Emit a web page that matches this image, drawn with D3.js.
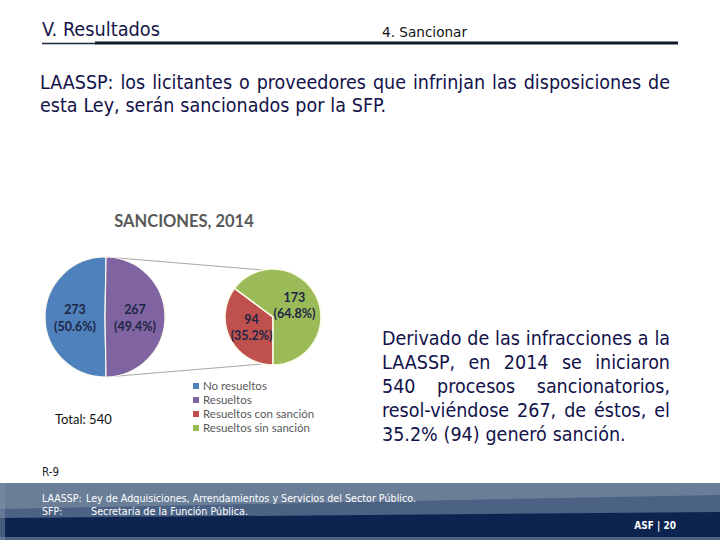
<!DOCTYPE html>
<html><head><meta charset="utf-8">
<script src="https://cdn.jsdelivr.net/npm/d3@7"></script>
<style>body{margin:0;background:#fff}svg{display:block}</style>
</head><body>
<script>
const mainLabels = ["No resueltos", "Resueltos"];
const mainValues = [273, 267];
const subLabels = ["Resueltos con sanción", "Resueltos sin sanción"];
const subValues = [94, 173];
const legendLabels = ["No resueltos", "Resueltos", "Resueltos con sanción", "Resueltos sin sanción"];
const colors = {"No resueltos":"#4f81bd","Resueltos":"#8064a2","Resueltos con sanción":"#c0504d","Resueltos sin sanción":"#9bbb59"};
const chartTitle = "SANCIONES, 2014";
const totalLabel = "Total: 540";
const headerLeft = "V. Resultados";
const headerRight = "4. Sancionar";
const introLines = ["LAASSP: los licitantes o proveedores que infrinjan las disposiciones de", "esta Ley, serán sancionados por la SFP."];
const sideLines = ["Derivado de las infracciones a la", "LAASSP, en 2014 se iniciaron", "540 procesos sancionatorios,", "resol-viéndose 267, de éstos, el", "35.2% (94) generó sanción."];
const footLines = [["LAASSP:", "Ley de Adquisiciones, Arrendamientos y Servicios del Sector Público."], ["SFP:", "Secretaría de la Función Pública."]];
const refLabel = "R-9";
const pageLabel = "ASF | 20";

const W = 720, H = 540;
const svg = d3.select("body").append("svg").attr("width", W).attr("height", H);

const txtFont = "'DejaVu Sans Condensed', 'DejaVu Sans', Verdana, sans-serif";
const txtStretch = "condensed";

// justified line: place words individually
function justLine(x, y, width, line, size, color, justify) {
  const g = svg.append("text").attr("y", y).attr("font-family", txtFont).attr("font-stretch", txtStretch)
    .attr("font-size", size).attr("fill", color);
  const words = line.split(" ");
  const spans = words.map(w => g.append("tspan").text(w));
  const widths = spans.map(s => s.node().getComputedTextLength());
  const total = d3.sum(widths);
  const space = size * 0.3;
  let gap = justify && words.length > 1 ? (width - total) / (words.length - 1) : space;
  let cx = x;
  spans.forEach((s, i) => { s.attr("x", cx); cx += widths[i] + gap; });
}

// Header
svg.append("text").attr("x", 42).attr("y", 36).attr("font-family", txtFont).attr("font-stretch", txtStretch).attr("font-size", 19.5)
  .attr("fill", "#16164a").attr("textLength", 118).attr("lengthAdjust", "spacingAndGlyphs").text(headerLeft);
svg.append("text").attr("x", 382).attr("y", 37).attr("font-family", txtFont).attr("font-stretch", txtStretch).attr("font-size", 14.5)
  .attr("fill", "#111").attr("textLength", 85).attr("lengthAdjust", "spacingAndGlyphs").text(headerRight);
svg.append("line").attr("x1", 42).attr("x2", 96).attr("y1", 43.5).attr("y2", 43.5).attr("stroke", "#1a2a3a").attr("stroke-width", 1.5);
svg.append("line").attr("x1", 95).attr("x2", 678).attr("y1", 43).attr("y2", 43).attr("stroke", "#0d1a28").attr("stroke-width", 3.2);

// Intro text
justLine(40, 89, 630, introLines[0], 19.5, "#12124a", true);
justLine(40, 112, 0, introLines[1], 19.5, "#12124a", false);

// Side text (justified)
sideLines.forEach((t, i) => justLine(382, 345 + i * 24, 288, t, 19.5, "#12124a", i < sideLines.length - 1));

// Chart
const chartFont = "Lato, 'Open Sans', sans-serif";
svg.append("text").attr("x", 184).attr("y", 227).attr("text-anchor", "middle").attr("font-family", chartFont)
  .attr("font-weight", "bold").attr("font-size", 16.5).attr("fill", "#595959").text(chartTitle);

const mainC = {x: 105, y: 317, r: 60};
const subC = {x: 273, y: 317, r: 48};
const resIdx = mainLabels.indexOf("Resueltos");
const resAngle = 2 * Math.PI * mainValues[resIdx] / d3.sum(mainValues);
const mainStart = Math.PI / 2 + resAngle / 2;
const pieMain = d3.pie().sort(null).startAngle(mainStart).endAngle(mainStart + 2 * Math.PI);
const pieSub = d3.pie().sort(null).startAngle(Math.PI).endAngle(3 * Math.PI);
const arcMain = d3.arc().innerRadius(0).outerRadius(mainC.r);
const arcSub = d3.arc().innerRadius(0).outerRadius(subC.r);
const pct = d3.format(".1%");

// connector lines
const topA = mainStart + 2 * Math.PI - resAngle;
const botA = mainStart;
const pt = (c, r, a) => [c.x + r * Math.sin(a), c.y - r * Math.cos(a)];
const conA = 12 * Math.PI / 180;
const conn = svg.append("g").attr("stroke", "#a6a6a6").attr("stroke-width", 1);
[[pt(mainC, mainC.r, topA), pt(subC, subC.r, -conA)], [pt(mainC, mainC.r, botA), pt(subC, subC.r, Math.PI + conA)]].forEach(([a, b]) => {
  conn.append("line").attr("x1", a[0]).attr("y1", a[1]).attr("x2", b[0]).attr("y2", b[1]);
});

const gMain = svg.append("g").attr("transform", `translate(${mainC.x},${mainC.y})`);
const mainArcs = pieMain(mainValues);
gMain.selectAll("path").data(mainArcs).join("path").attr("d", arcMain)
  .attr("fill", (d, i) => colors[mainLabels[i]]).attr("stroke", "#fbfbf0").attr("stroke-width", 1.2);
const totalMain = d3.sum(mainValues);
mainArcs.forEach(d => {
  const [cx, cy] = arcMain.centroid(d);
  const t = gMain.append("text").attr("text-anchor", "middle").attr("font-family", chartFont).attr("font-weight", "bold")
    .attr("font-size", 12.5).attr("fill", "#1d2645");
  t.append("tspan").attr("x", cx).attr("y", cy - 3).text(d.data);
  t.append("tspan").attr("x", cx).attr("y", cy + 14).text("(" + pct(d.data / totalMain) + ")");
});

const gSub = svg.append("g").attr("transform", `translate(${subC.x},${subC.y})`);
const subArcs = pieSub(subValues);
gSub.selectAll("path").data(subArcs).join("path").attr("d", arcSub)
  .attr("fill", (d, i) => colors[subLabels[i]]).attr("stroke", "#fbfbe8").attr("stroke-width", 1.5);
const totalSub = d3.sum(subValues);
subArcs.forEach(d => {
  const [cx, cy] = arcSub.centroid(d);
  const t = gSub.append("text").attr("text-anchor", "middle").attr("font-family", chartFont).attr("font-weight", "bold")
    .attr("font-size", 12.5).attr("fill", "#1d2645");
  t.append("tspan").attr("x", cx).attr("y", cy - 4).text(d.data);
  t.append("tspan").attr("x", cx).attr("y", cy + 12).text("(" + pct(d.data / totalSub) + ")");
});

// Legend
const lg = svg.append("g").attr("transform", "translate(193,386)");
legendLabels.forEach((l, i) => {
  lg.append("rect").attr("x", 0).attr("y", i * 14 - 3).attr("width", 6).attr("height", 6).attr("fill", colors[l]);
  lg.append("text").attr("x", 10).attr("y", i * 14 + 4).attr("font-family", chartFont).attr("font-size", 11.5)
    .attr("fill", "#595959").text(l);
});
svg.append("text").attr("x", 55).attr("y", 424).attr("font-family", chartFont).attr("font-size", 13).attr("fill", "#111").text(totalLabel);

// R-9
svg.append("text").attr("x", 42).attr("y", 476).attr("font-family", txtFont).attr("font-stretch", txtStretch).attr("font-size", 11.5).attr("fill", "#222").text(refLabel);

// Footer
svg.append("rect").attr("x", 0).attr("y", 483).attr("width", W).attr("height", 57).attr("fill", "#6a7e98");
svg.append("path").attr("d", "M0,509 L720,495 L720,540 L0,540 Z").attr("fill", "#4b6284");
svg.append("path").attr("d", "M0,518 L720,512 L720,537 L0,537 Z").attr("fill", "#0d2450");
svg.append("rect").attr("x", 0).attr("y", 483).attr("width", 5).attr("height", 57).attr("fill", "#7d90a8").attr("opacity", 0.5);
footLines.forEach((f, i) => {
  svg.append("text").attr("x", 42).attr("y", 502 + i * 13).attr("font-family", txtFont).attr("font-stretch", txtStretch).attr("font-size", 10.5)
    .attr("fill", "#fff").text(f[0]);
  svg.append("text").attr("x", i === 0 ? 86 : 91).attr("y", 502 + i * 13).attr("font-family", txtFont).attr("font-stretch", txtStretch).attr("font-size", 10.5)
    .attr("fill", "#fff").attr("textLength", i === 0 ? 330 : 157).attr("lengthAdjust", "spacingAndGlyphs").text(f[1]);
});
svg.append("text").attr("x", 676).attr("y", 529).attr("text-anchor", "end").attr("font-family", txtFont).attr("font-stretch", txtStretch).attr("font-weight", "bold")
  .attr("font-size", 10).attr("fill", "#fff").text(pageLabel);
</script>
</body></html>
